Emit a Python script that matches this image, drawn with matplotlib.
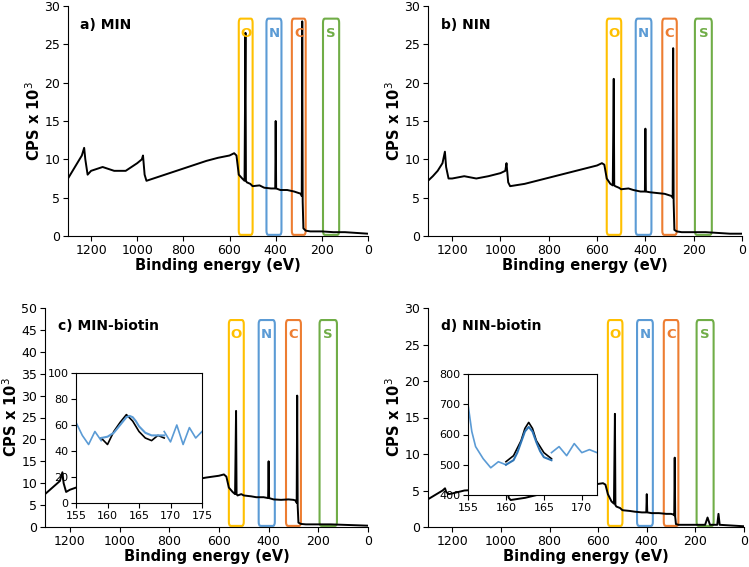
import matplotlib.pyplot as plt
import numpy as np

W, H = 749, 567
fig = plt.figure(figsize=(W/100, H/100), dpi=100)

def ax_px(l, t, r, b):
    return fig.add_axes([l/W, 1-b/H, (r-l)/W, (b-t)/H])

# survey spectra (binding energy eV, CPS x 10^3)
energy_a = [1300,1280,1260,1240,1230,1225,1215,1200,1150,1100,1050,1000,980,975,968,960,900,850,800,750,700,650,600,580,570,560,545,535,531,529,525,510,500,470,450,420,402,400,398,380,350,320,300,290,287,285,283,280,270,250,200,150,100,50,0]
cps_a    = [7.5,8.5,9.5,10.5,11.5,10,8,8.5,9,8.5,8.5,9.5,10,10.5,8,7.2,7.8,8.3,8.8,9.3,9.8,10.2,10.5,10.8,10.5,8,7.5,7.2,26.5,7.2,7,6.8,6.5,6.6,6.3,6.2,6.2,15,6.2,6,6,5.8,5.6,5.5,5.2,28,4.5,1.0,0.7,0.6,0.6,0.5,0.5,0.4,0.3]
energy_b = [1300,1280,1260,1240,1230,1225,1215,1200,1150,1100,1050,1000,980,975,968,960,900,850,800,750,700,650,600,580,570,560,545,535,531,529,525,510,500,470,450,420,402,400,398,380,350,320,300,290,287,285,283,280,270,250,200,150,100,50,0]
cps_b    = [7.2,7.8,8.5,9.5,11,9,7.5,7.5,7.8,7.5,7.8,8.2,8.5,9.5,7,6.5,6.8,7.2,7.6,8,8.4,8.8,9.2,9.5,9.3,7.5,6.8,6.6,20.5,6.6,6.5,6.3,6.1,6.2,6,5.8,5.8,14,5.8,5.7,5.6,5.5,5.3,5.2,5,24.5,4.5,0.8,0.6,0.5,0.5,0.5,0.4,0.3,0.3]
energy_c = [1300,1280,1260,1240,1230,1225,1215,1200,1150,1100,1050,1000,980,975,968,960,900,850,800,750,700,650,600,580,570,560,545,535,531,529,525,510,500,470,450,420,402,400,398,380,350,320,300,290,287,285,283,280,270,250,200,150,100,50,0]
cps_c    = [7.5,8.5,9.5,10.5,12.5,10,8,8.5,9.5,9,9.5,10,11,13,8,7.5,8.3,9,9.6,10.2,10.8,11.3,11.7,12,11.5,9,8,7.5,26.5,7.5,7.2,7.5,7.2,7,6.8,6.8,6.6,15,6.6,6.3,6.2,6.3,6.2,6,5.5,30,4.8,1.0,0.7,0.6,0.6,0.6,0.5,0.4,0.3]
energy_d = [1300,1280,1260,1240,1230,1225,1215,1200,1150,1100,1050,1000,980,975,968,960,900,850,800,750,700,650,600,580,570,560,545,535,531,529,525,510,500,470,450,420,402,400,398,380,350,320,300,290,287,285,283,280,270,250,200,160,150,140,110,105,100,50,0]
cps_d    = [3.8,4.2,4.6,5.0,5.3,4.8,4.5,4.6,5.0,5.1,5.4,5.6,5.8,6.0,4.0,3.7,4.0,4.4,4.8,5.1,5.4,5.7,5.9,6.0,5.8,4.5,3.5,3.2,15.5,3.0,2.8,2.6,2.3,2.2,2.1,2.0,2.0,4.5,2.0,1.9,1.9,1.8,1.8,1.7,1.6,9.5,1.4,0.4,0.3,0.3,0.3,0.3,1.3,0.3,0.3,1.8,0.3,0.2,0.1]

# insets (S 2p region)
ins_c_e_blue = [155,156,157,158,159,169,170,171,172,173,174,175]
ins_c_v_blue = [62,52,45,55,48,55,47,60,45,58,50,55]
ins_c_e_blk  = [159,160,161,162,163,164,165,166,167,168,169]
ins_c_v_blk  = [50,45,55,62,68,63,55,50,48,52,50]
ins_c_e_fit  = [159,160,161,162,162.5,163,163.5,164,164.5,165,166,167,168,169]
ins_c_v_fit  = [50,51,54,60,63,66,67,66,63,59,54,52,52,52]
ins_d_e_blue = [155,155.5,156,157,158,159,160,166,167,168,169,170,171,172]
ins_d_v_blue = [700,610,560,520,490,510,500,540,560,530,570,540,550,540]
ins_d_e_blk  = [160,161,162,162.5,163,163.5,164,165,166]
ins_d_v_blk  = [510,530,580,620,640,620,580,540,520]
ins_d_e_fit  = [160,161,161.5,162,162.5,163,163.5,164,164.5,165,166]
ins_d_v_fit  = [500,515,540,575,610,625,610,575,545,525,515]

panels = [
    (energy_a, cps_a, 'a) MIN', 30, (68, 6, 368, 236)),
    (energy_b, cps_b, 'b) NIN', 30, (428, 6, 742, 236)),
    (energy_c, cps_c, 'c) MIN-biotin', 50, (45, 308, 368, 527)),
    (energy_d, cps_d, 'd) NIN-biotin', 30, (428, 308, 744, 527)),
]
boxes = [('O', 560, 500, '#FFC000'), ('N', 440, 375, '#5B9BD5'),
         ('C', 330, 270, '#ED7D31'), ('S', 195, 125, '#70AD47')]

from matplotlib.patches import FancyBboxPatch
for e, v, title, ymax, pos in panels:
    ax = ax_px(*pos)
    ax.plot(e, v, color='black', lw=1.4)
    ax.set_xlim(1300, 0)
    ax.set_ylim(0, ymax)
    ax.set_xticks([1200, 1000, 800, 600, 400, 200, 0])
    ax.set_yticks(np.arange(0, ymax+1, 5))
    for s in ['top', 'right']:
        ax.spines[s].set_visible(False)
    ax.tick_params(labelsize=9, pad=2)
    ax.set_xlabel('Binding energy (eV)', fontsize=10.5, fontweight='bold', labelpad=1)
    ax.set_ylabel('CPS x 10$^3$', fontsize=10.5, fontweight='bold', labelpad=1)
    ax.text(0.04, 0.9, title, transform=ax.transAxes, fontsize=10, fontweight='bold')
    for lab, x1, x2, col in boxes:
        p = FancyBboxPatch((x2, ymax*0.005), x1-x2, ymax*0.94, boxstyle='round,pad=0,rounding_size=8',
                           mutation_aspect=ymax/1300*3, fill=False, ec=col, lw=1.5, clip_on=False)
        ax.add_patch(p)
        ax.text((x1+x2)/2, ymax*0.88, lab, color=col, ha='center', va='center', fontsize=9.5, fontweight='bold')

ia = ax_px(76, 373, 202, 503)
ia.plot(ins_c_e_blue[:5], ins_c_v_blue[:5], color='#5B9BD5', lw=1.2)
ia.plot(ins_c_e_blue[5:], ins_c_v_blue[5:], color='#5B9BD5', lw=1.2)
ia.plot(ins_c_e_blk, ins_c_v_blk, color='black', lw=1.2)
ia.plot(ins_c_e_fit, ins_c_v_fit, color='#5B9BD5', lw=1.5)
ia.set_xlim(155, 175); ia.set_ylim(0, 100)
ia.set_xticks([155,160,165,170,175]); ia.set_yticks([0,20,40,60,80,100])
ia.tick_params(labelsize=8, pad=2)

ib = ax_px(468, 374, 597, 495)
ib.plot(ins_d_e_blue[:7], ins_d_v_blue[:7], color='#5B9BD5', lw=1.2)
ib.plot(ins_d_e_blue[7:], ins_d_v_blue[7:], color='#5B9BD5', lw=1.2)
ib.plot(ins_d_e_blk, ins_d_v_blk, color='black', lw=1.2)
ib.plot(ins_d_e_fit, ins_d_v_fit, color='#2E75B6', lw=1.5)
ib.set_xlim(155, 172); ib.set_ylim(400, 800)
ib.set_xticks([155,160,165,170]); ib.set_yticks([400,500,600,700,800])
ib.tick_params(labelsize=8, pad=2)

fig.savefig('out.png', dpi=100)
